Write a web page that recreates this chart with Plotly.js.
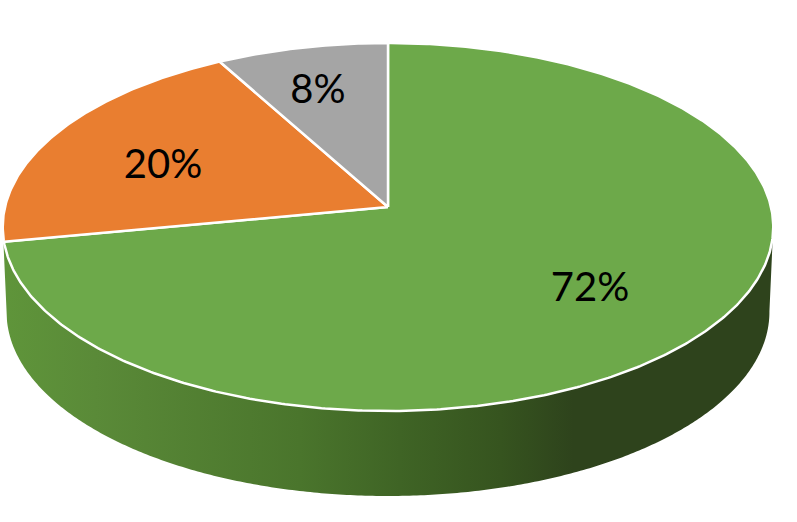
<!DOCTYPE html>
<html>
<head>
<meta charset="utf-8">
<script src="https://cdn.plot.ly/plotly-3.0.1.min.js"></script>
<style>html,body{margin:0;padding:0;background:#fff}#chart{width:797px;height:522px}</style>
</head>
<body>
<div id="chart"></div>
<script>
// Data, clockwise from 12 o'clock
const categories = ['Green', 'Orange', 'Gray'];
const values = [72, 20, 8];
const labels = ['72%', '20%', '8%'];
const colors = ['#6DA94A', '#E97E30', '#A5A5A5'];

// Label anchor points
const labelX = [590, 163, 318];
const labelY = [291, 168, 93];

// Tilted disc projection
const cx = 388, cy = 207, rx = 383, ry = 181.8, persp = 0.1087, depth = 85;
function project(deg, r, scale, dy) {
  const t = deg * Math.PI / 180, u = r * Math.sin(t), v = r * Math.cos(t), w = 1 + persp * v;
  return [cx + rx * scale * u / w, cy + dy - ry * v / w];
}
function arc(from, to, scale, dy) {
  const n = Math.max(2, Math.ceil(Math.abs(to - from))) * 2, pts = [];
  for (let i = 0; i <= n; i++) pts.push(project(from + (to - from) * i / n, 1, scale, dy));
  return pts;
}

const total = values.reduce((a, b) => a + b, 0);
const traces = [];

// Side wall of the green slice
const greenEnd = 360 * values[0] / total;
const rim = arc(96, greenEnd + 2, 1, 0);
const bottom = arc(greenEnd + 2, 96, 0.99, depth);
const wall = rim.concat(bottom);
wall.push(wall[0]);
traces.push({
  type: 'scatter', mode: 'none', fill: 'toself', hoverinfo: 'skip',
  x: wall.map(p => p[0]), y: wall.map(p => p[1]),
  fillgradient: {
    type: 'horizontal',
    colorscale: [[0, '#5F953A'], [0.12, '#5A8A38'], [0.385, '#4A752C'], [0.515, '#3F6425'], [0.646, '#36541F'], [0.74, '#2E431C'], [1, '#2E431C']]
  }
});

// Top faces
let start = 0;
values.forEach((val, i) => {
  const end = start + 360 * val / total;
  const pts = [[cx, cy]].concat(arc(start, end, 1, 0));
  pts.push([cx, cy]);
  traces.push({
    type: 'scatter', mode: 'lines', fill: 'toself', fillcolor: colors[i], name: categories[i],
    hoverinfo: 'skip', line: {color: '#FFFFFF', width: 2.5},
    x: pts.map(p => p[0]), y: pts.map(p => p[1])
  });
  start = end;
});

// Percentage labels
traces.push({
  type: 'scatter', mode: 'text', x: labelX, y: labelY, text: labels,
  textposition: 'middle center', hoverinfo: 'skip',
  textfont: {family: 'Lato, sans-serif', size: 40, color: '#000000'}
});

const layout = {
  width: 797, height: 522, showlegend: false,
  margin: {l: 0, r: 0, t: 0, b: 0},
  paper_bgcolor: '#FFFFFF', plot_bgcolor: '#FFFFFF',
  xaxis: {range: [0, 797], visible: false, fixedrange: true},
  yaxis: {range: [522, 0], visible: false, fixedrange: true}
};
Plotly.newPlot('chart', traces, layout, {displayModeBar: false, staticPlot: true});
</script>
</body>
</html>
